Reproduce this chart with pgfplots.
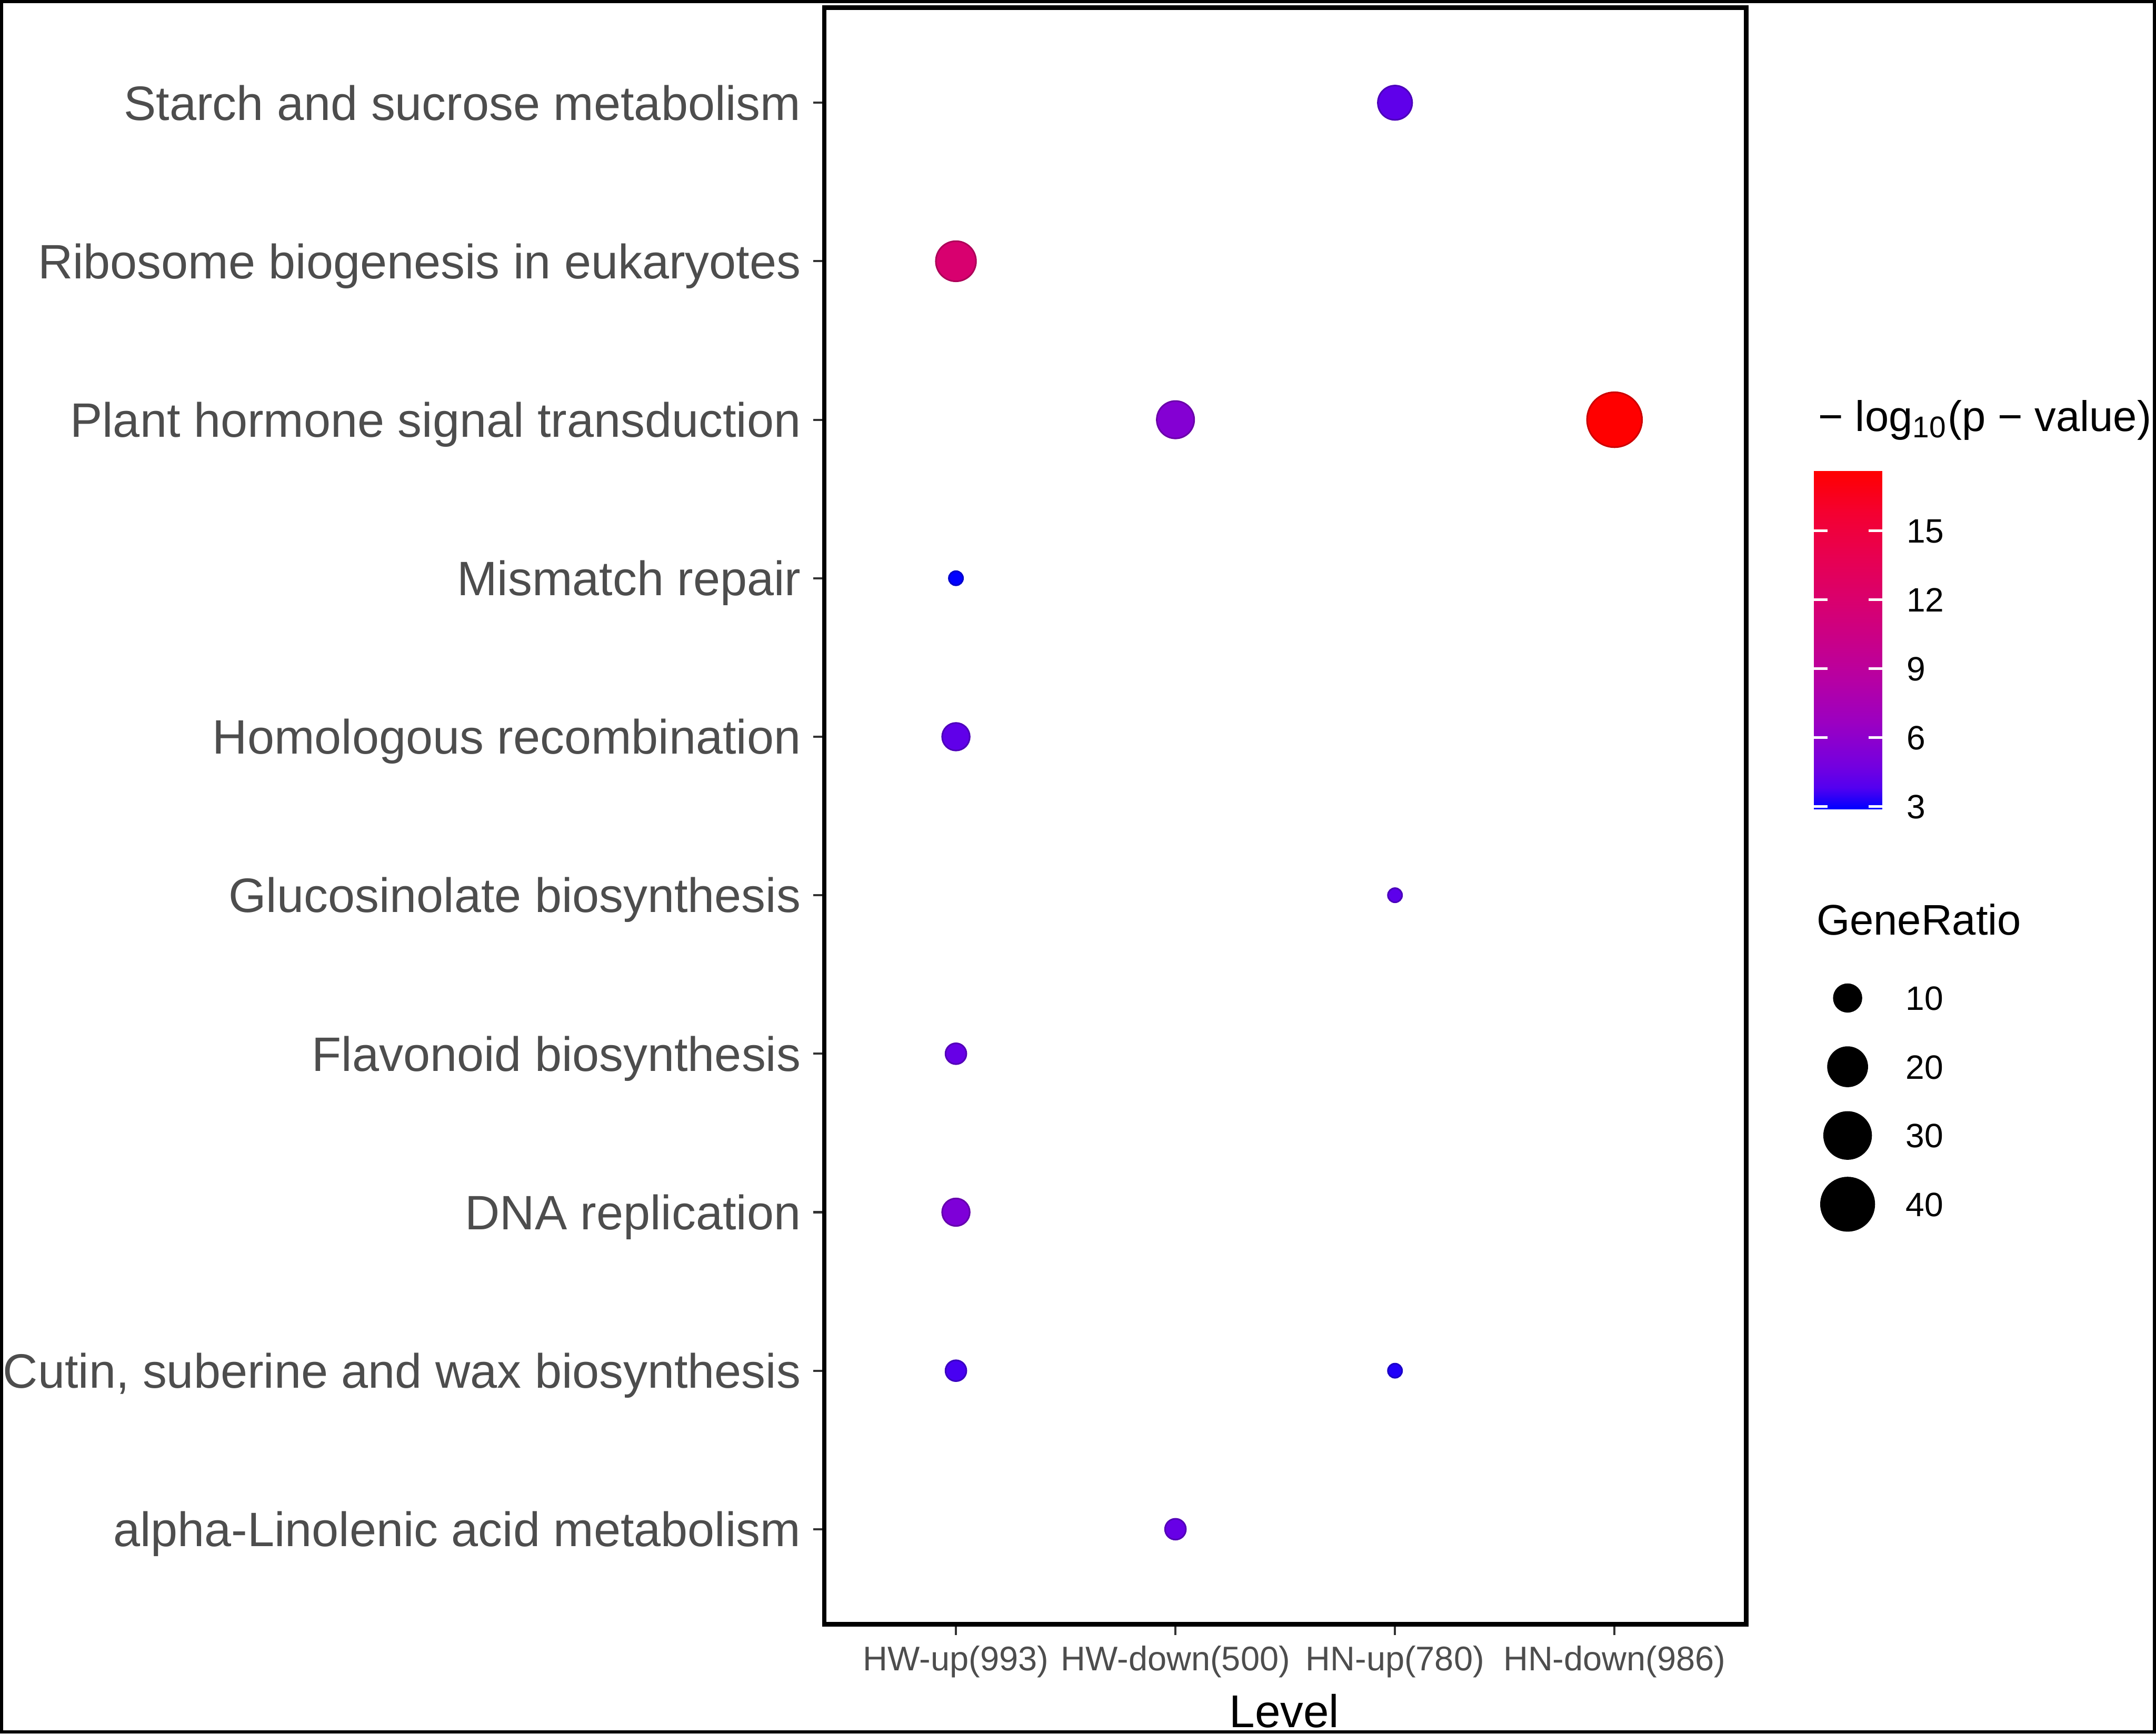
\documentclass[border=0pt]{standalone}
\usepackage{fontspec}
\setmainfont{Liberation Sans}
\usepackage{pgfplots}
\usepackage{pgfplotstable}
\pgfplotsset{compat=1.18}
\pgfplotsset{/pgf/number format/assume math mode=true}
\pgfplotsset{colormap={gg}{rgb255(0cm)=(0,0,255); rgb255(1cm)=(83,0,240); rgb255(2cm)=(115,0,224); rgb255(4cm)=(154,0,195); rgb255(6cm)=(181,0,165); rgb255(8cm)=(201,0,136); rgb255(10cm)=(218,0,108); rgb255(12cm)=(232,0,80); rgb255(14cm)=(244,0,49); rgb255(16cm)=(255,0,0)}}

\definecolor{txtgray}{HTML}{4D4D4D}
\definecolor{tickgray}{HTML}{333333}

% lvl: 1 HW-up, 2 HW-down, 3 HN-up, 4 HN-down ; path: 1 = bottom row
\pgfplotstableread{
lvl path ratio logp
3 10 15 4.15
1 9  21 11.9
2 8  18 5.55
4 8  43 17.6
1 7  6  2.9
1 6  10 4.2
3 5  6  4.1
1 4  7  4.4
1 3  10 5.25
1 2  7  3.7
3 2  6  3.27
2 1  7  4.4
}\keggdata

\pgfplotstableread{
x y ratio
0 3 10
0 2 20
0 1 30
0 0 40
}\sizekey

\begin{document}
\begin{tikzpicture}
\useasboundingbox (0,0) rectangle (548.8pt,441.35pt);

\begin{axis}[
  at={(209.8pt,27.8pt)}, anchor=south west,
  scale only axis, width=234.7pt, height=411.6pt,
  xmin=0.4, xmax=4.6, ymin=0.4, ymax=10.6,
  xtick={1,2,3,4},
  xticklabels={HW-up(993),HW-down(500),HN-up(780),HN-down(986)},
  ytick={1,...,10},
  yticklabels={alpha-Linolenic acid metabolism,{Cutin, suberine and wax biosynthesis},DNA replication,Flavonoid biosynthesis,Glucosinolate biosynthesis,Homologous recombination,Mismatch repair,Plant hormone signal transduction,Ribosome biogenesis in eukaryotes,Starch and sucrose metabolism},
  tick align=outside, xtick pos=left, ytick pos=left,
  major tick length=2.8pt,
  major tick style={tickgray, line width=0.55pt},
  axis line style={line width=1.1pt},
  xticklabel style={font=\fontsize{8.7pt}{10pt}\selectfont, text=txtgray, anchor=base, inner sep=0pt, yshift=-9pt},
  yticklabel style={font=\fontsize{12.3pt}{14pt}\selectfont, text=txtgray, anchor=base east, inner sep=0pt, xshift=-2.95pt, yshift=-4.4pt},
  point meta min=2.9, point meta max=17.6,
  clip=false,
]
\addplot[scatter, only marks, mark=*, point meta=\thisrow{logp},
  visualization depends on={1.8025+5.1975*sqrt((\thisrow{ratio}-6)/37) \as \msize},
  scatter/@pre marker code/.append style={/tikz/mark size=\msize}]
  table[x=lvl, y=path] {\keggdata};
\end{axis}

% colour key
\begin{axis}[
  at={(461.65pt,235.4pt)}, anchor=south west,
  scale only axis, width=17.5pt, height=86pt,
  view={0}{90},
  xmin=0, xmax=1, ymin=2.9, ymax=17.6,
  point meta min=2.9, point meta max=17.6,
  xtick=\empty, ztick=\empty, ytick={3,6,9,12,15},
  axis line style={draw=none},
  tick align=inside, ytick pos=both, yticklabel pos=right,
  major tick length=3.56pt,
  major tick style={white, line width=0.7pt},
  axis on top,
  yticklabel style={font=\fontsize{8.6pt}{10pt}\selectfont, text=black, anchor=base west, inner sep=0pt, xshift=5.95pt, yshift=-3.1pt},
]
\addplot3[surf, shader=interp, mesh/rows=2] coordinates {(0,2.9,2.9) (1,2.9,2.9) (0,17.6,17.6) (1,17.6,17.6)};
\end{axis}

% size key
\begin{axis}[
  at={(470.3pt,134.75pt)}, anchor=south west,
  scale only axis, width=20pt, height=52.5pt,
  xmin=0, xmax=1, ymin=0, ymax=3,
  hide axis, clip=false,
  colormap={blk}{color(0cm)=(black); color(1cm)=(black)},
]
\addplot[scatter, only marks, mark=*, point meta=\thisrow{ratio},
  visualization depends on={1.8025+5.1975*sqrt((\thisrow{ratio}-6)/37) \as \msize},
  scatter/@pre marker code/.append style={/tikz/mark size=\msize}]
  table[x=x, y=y] {\sizekey};
\addplot[only marks, mark=*, mark size=0pt, point meta=\thisrow{ratio},
  nodes near coords,
  nodes near coords style={anchor=base west, inner sep=0pt, xshift=14.6pt, yshift=-3.1pt, font=\fontsize{8.6pt}{10pt}\selectfont, text=black}]
  table[x=x, y=y] {\sizekey};
\end{axis}

\node[anchor=base west, inner sep=0pt, font=\fontsize{10.9pt}{13pt}\selectfont] at (462.7pt,331.6pt) {− log\textsubscript{10}(p − value)};
\node[anchor=base west, inner sep=0pt, font=\fontsize{10.9pt}{13pt}\selectfont] at (462.2pt,203.35pt) {GeneRatio};
\node[anchor=base, inner sep=0pt, font=\fontsize{11.7pt}{14pt}\selectfont] at (326.9pt,1.5pt) {Level};

\draw[line width=0.8pt] (0.4pt,0.4pt) rectangle (548.4pt,440.95pt);
\end{tikzpicture}
\end{document}
